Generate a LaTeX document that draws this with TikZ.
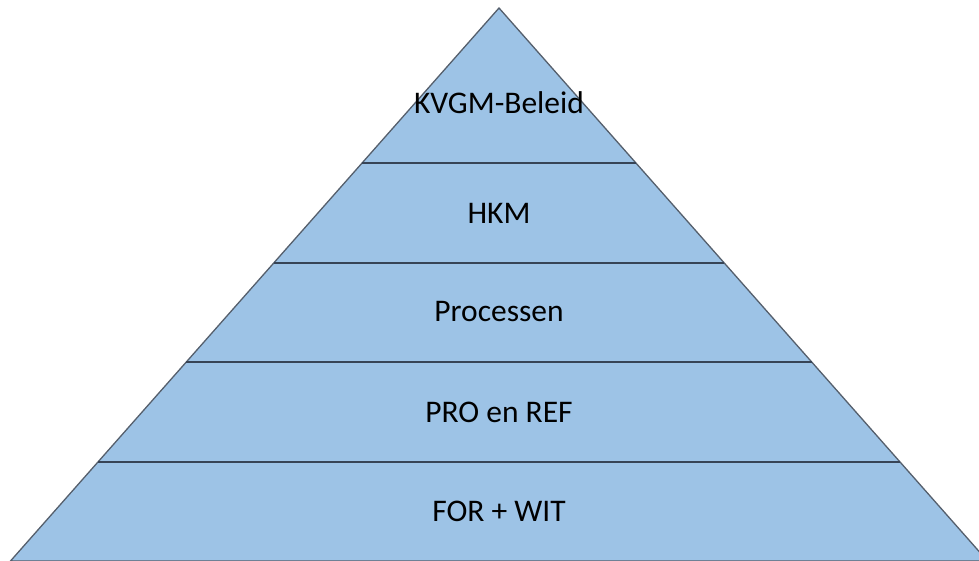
\documentclass[tikz,border=0pt]{standalone}
\usepackage{fontspec}
\setmainfont{Carlito}
\usetikzlibrary{calc}
\definecolor{pyrblue}{RGB}{157,195,230}
\definecolor{pyredge}{RGB}{85,95,108}
\definecolor{pyrline}{RGB}{55,68,86}
\tikzset{
  layer/.style={anchor=base,font=\fontsize{31.5}{36}\selectfont},
  sep/.style={draw=pyrline,line width=2.2pt}
}
\begin{document}
\begin{tikzpicture}[x=1pt,y=1pt,line width=1.3pt]
\useasboundingbox (0,0) rectangle (979,560);
\clip (0,0) rectangle (979,560);
\coordinate (T) at (499,552);
\coordinate (L) at (10.5,-1);
\coordinate (R) at (987.5,-1);
\filldraw[fill=pyrblue,draw=pyredge] (L)--(T)--(R)--cycle;
%\draw[help lines] (0,0) grid[step=100] (979,560);
\foreach \t in {0.2803,0.4611,0.6401,0.8210}
  \draw[sep] ($(T)!\t!(L)$)--($(T)!\t!(R)$);
\node[layer] (kvgm) at (499,446) {KVGM-Beleid};
\node[layer] (hkm) at (499,336.5) {HKM};
\node[layer] (proc) at (499,238) {Processen};
\node[layer] (proref) at (499,137.5) {PRO en REF};
\node[layer] (forwit) at (499,39) {FOR + WIT};
\end{tikzpicture}
\end{document}
